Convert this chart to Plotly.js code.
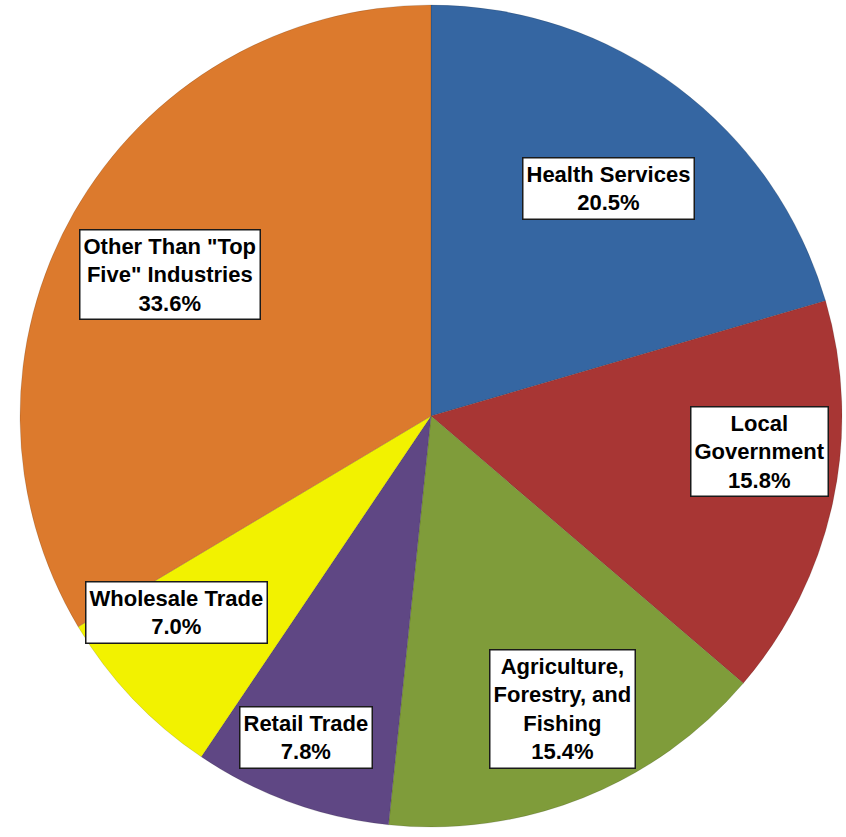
<!DOCTYPE html>
<html>
<head>
<meta charset="utf-8">
<script src="https://cdn.plot.ly/plotly-3.0.1.min.js"></script>
<style>
html,body{margin:0;padding:0;background:#fff;overflow:hidden;}
#chart{width:846px;height:837px;}
</style>
</head>
<body>
<div id="chart"></div>
<script>
// Data
const categories = ["Health Services", "Local Government", "Agriculture, Forestry, and Fishing", "Retail Trade", "Wholesale Trade", "Other Than \"Top Five\" Industries"];
const labelTexts = ["Health Services", "Local<br>Government", "Agriculture,<br>Forestry, and<br>Fishing", "Retail Trade", "Wholesale Trade", "Other Than \"Top<br>Five\" Industries"];
const values = [20.5, 15.8, 15.4, 7.8, 7.0, 33.6];

// Styles / label placement (not data)
const colors = ["#3566a2", "#a83634", "#7f9c3a", "#5f4784", "#f2f200", "#dc7a2d"];
const labelRadius = [0.70, 0.80, 0.78, 0.84, 0.78, 0.72];
const labelAngleShift = [1, -6, -2.4, 1.2, 5.6, -1];

const total = values.reduce((a, b) => a + b, 0);
let cum = 0;
const annotations = values.map((v, i) => {
  const mid = (cum + v / 2) / total * 360 + labelAngleShift[i];
  cum += v;
  const rad = mid * Math.PI / 180;
  const f = labelRadius[i];
  return {
    xref: 'paper', yref: 'paper',
    x: 0.5 + 0.5 * f * Math.sin(rad),
    y: 0.5 + 0.5 * f * Math.cos(rad),
    text: '<b>' + labelTexts[i] + '<br>' + v.toFixed(1) + '%</b>',
    showarrow: false,
    align: 'center',
    bgcolor: '#ffffff',
    bordercolor: '#1a1a1a',
    borderwidth: 1.5,
    borderpad: 3,
    font: {family: 'Liberation Sans, Arial, sans-serif', size: 22, color: '#000000'},
    xanchor: 'center', yanchor: 'middle'
  };
});

const trace = {
  type: 'pie',
  labels: categories,
  values: values,
  sort: false,
  direction: 'clockwise',
  rotation: 0,
  textinfo: 'none',
  hoverinfo: 'label+percent',
  marker: {colors: colors, line: {color: 'rgba(0,0,0,0.25)', width: 0.5}},
  domain: {x: [0, 1], y: [0, 1]},
  showlegend: false
};

const layout = {
  width: 846, height: 837,
  margin: {l: 18, r: 2, t: 5, b: 10, pad: 0},
  paper_bgcolor: '#ffffff',
  showlegend: false,
  annotations: annotations
};

Plotly.newPlot('chart', [trace], layout, {displayModeBar: false, staticPlot: true});
</script>
</body>
</html>
